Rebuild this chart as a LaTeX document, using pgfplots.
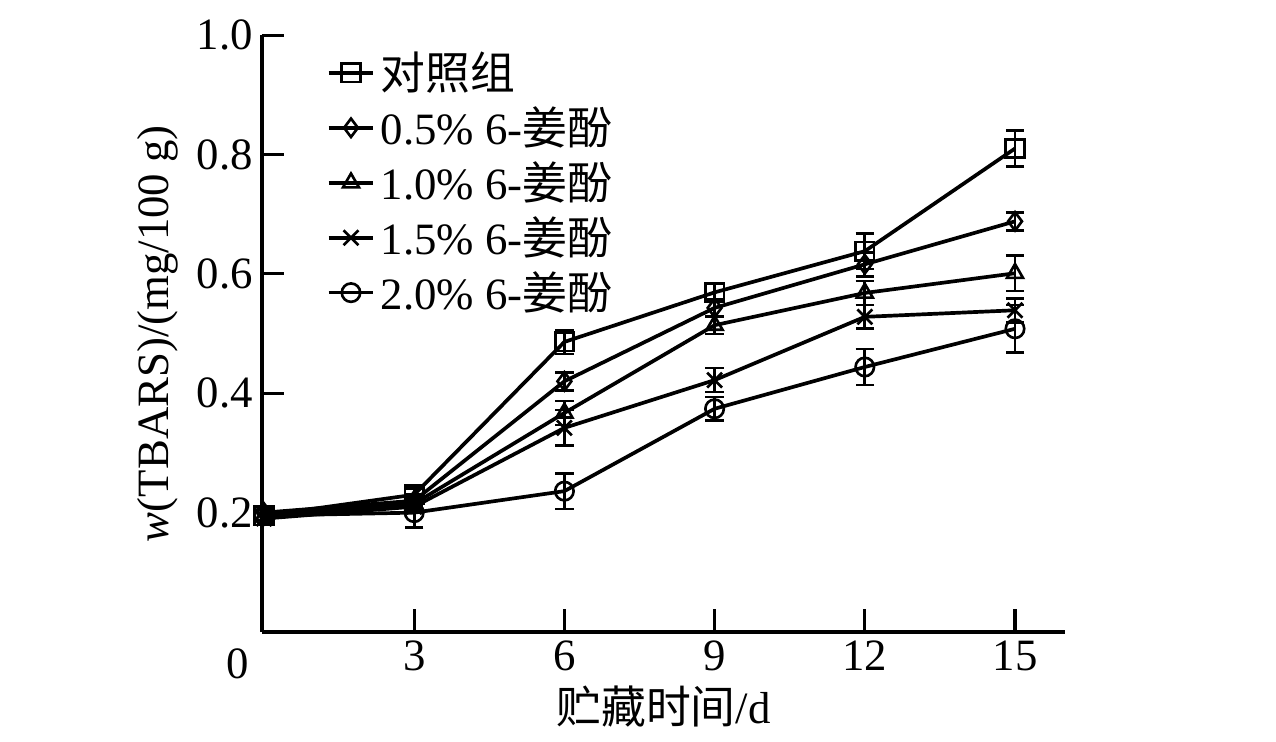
\documentclass[border=0pt]{standalone}
\usepackage{pgfplots}
\pgfplotsset{compat=1.18}
\usepackage{fontspec}
\setmainfont{Liberation Serif}
\newfontfamily\cjk{Noto Sans CJK SC}
\begin{document}
\begin{tikzpicture}[x=1cm,y=1cm]
\def\u{0.013333}
\begin{axis}[
  scale only axis, width=10.71cm, height=7.96cm,
  xmin=-0.04, xmax=16, ymin=0, ymax=1.0,
  axis lines=left, axis line style={line width=1.2pt,-},
  xtick={3,6,9,12,15}, ytick={0.2,0.4,0.6,0.8,1.0},
  yticklabel style={/pgf/number format/fixed,/pgf/number format/precision=1,/pgf/number format/fixed zerofill},
  tick align=inside, major tick length=0.3cm, tick style={line width=1.2pt,black},
  /pgf/number format/assume math mode=true,
  ticklabel style={font=\fontsize{17}{20}\selectfont},
  xlabel={{\cjk 贮藏时间}/d}, ylabel={\textit{w}(TBARS)/(mg/100 g)},
  label style={font=\fontsize{17}{20}\selectfont},
  xlabel style={yshift=0.05cm},
  legend style={draw=none, fill=none, at={(0.07,0.99)}, anchor=north west, font=\fontsize{17}{20}\selectfont, row sep=1pt},
  legend cell align=left,
  every axis plot/.append style={black, line width=1.4pt, mark size=3.5pt, mark options={solid, fill=white, line width=1pt}},
  error bars/error bar style={line width=1pt}, error bars/error mark options={rotate=90, mark size=3.5pt, line width=1pt},
]
\addplot[black, mark=square, error bars/.cd, y dir=both, y explicit] coordinates {
(0,0.195) +- (0,0.008) (3,0.23) +- (0,0.01) (6,0.486) +- (0,0.02) (9,0.569) +- (0,0.015) (12,0.638) +- (0,0.03) (15,0.81) +- (0,0.03)};
\addlegendentry{{\cjk 对照组}}
\addplot[black, mark=diamond, error bars/.cd, y dir=both, y explicit] coordinates {
(0,0.2) +- (0,0.008) (3,0.22) +- (0,0.01) (6,0.42) +- (0,0.015) (9,0.543) +- (0,0.015) (12,0.616) +- (0,0.02) (15,0.688) +- (0,0.015)};
\addlegendentry{0.5\% 6-{\cjk 姜酚}}
\addplot[black, mark=triangle, error bars/.cd, y dir=both, y explicit] coordinates {
(0,0.195) +- (0,0.008) (3,0.215) +- (0,0.01) (6,0.367) +- (0,0.02) (9,0.514) +- (0,0.015) (12,0.568) +- (0,0.02) (15,0.601) +- (0,0.03)};
\addlegendentry{1.0\% 6-{\cjk 姜酚}}
\addplot[black, mark=x, mark size=4pt, error bars/.cd, y dir=both, y explicit] coordinates {
(0,0.19) +- (0,0.008) (3,0.21) +- (0,0.01) (6,0.342) +- (0,0.03) (9,0.422) +- (0,0.02) (12,0.528) +- (0,0.02) (15,0.539) +- (0,0.02)};
\addlegendentry{1.5\% 6-{\cjk 姜酚}}
\addplot[black, mark=o, error bars/.cd, y dir=both, y explicit] coordinates {
(0,0.195) +- (0,0.008) (3,0.2) +- (0,0.025) (6,0.236) +- (0,0.03) (9,0.374) +- (0,0.02) (12,0.444) +- (0,0.03) (15,0.508) +- (0,0.04)};
\addlegendentry{2.0\% 6-{\cjk 姜酚}}
\end{axis}
\node[font=\fontsize{17}{20}\selectfont, anchor=north] at (-0.33,-0.1) {0};
\path[use as bounding box] (-262*\u,-110*\u) rectangle (1014*\u,632*\u);
\end{tikzpicture}
\end{document}
